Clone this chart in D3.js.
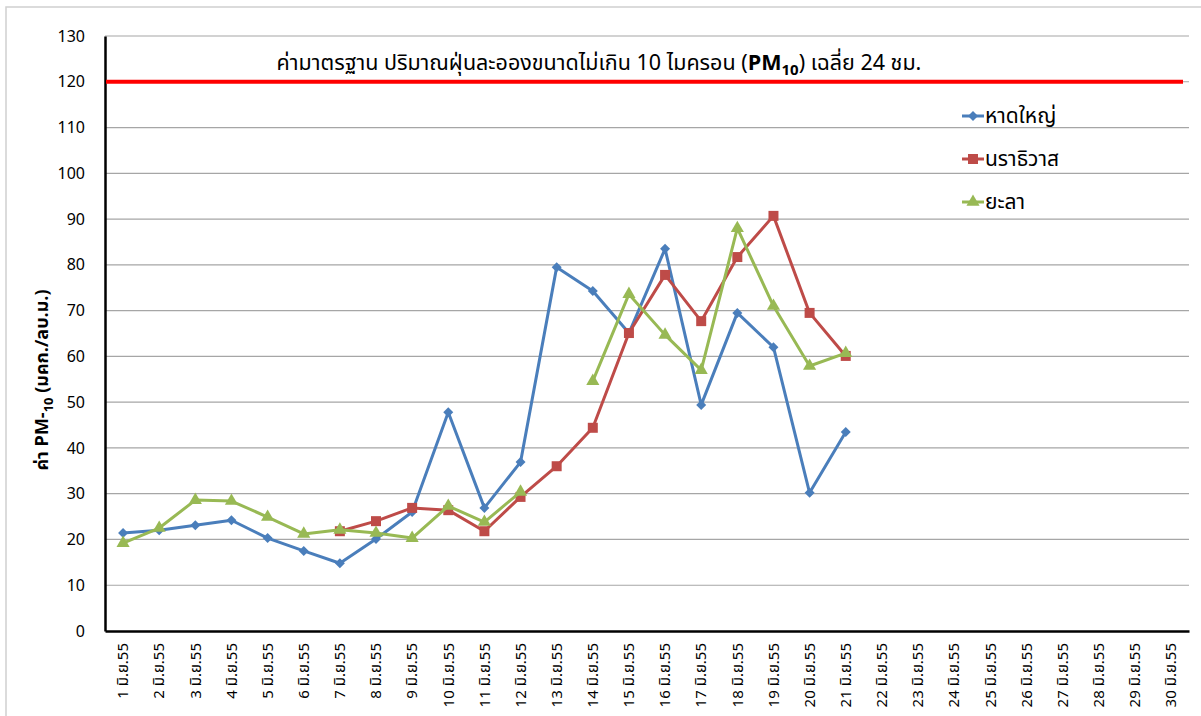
<!DOCTYPE html>
<html>
<head>
<meta charset="utf-8">
<script src="https://cdn.jsdelivr.net/npm/d3@7"></script>
<style>
  body { margin: 0; background: #fff; }
  text { font-family: "Noto Sans Thai", "Noto Sans", "DejaVu Sans", sans-serif; fill: #000; }
</style>
</head>
<body>
<div id="chart"></div>
<script>
// Chart values
const days = d3.range(1, 31).map(d => d + " มิ.ย.55");
const hatyai = [21.4, 22, 23.1, 24.2, 20.3, 17.5, 14.8, 20.1, 26, 47.8, 26.9, 36.9, 79.5, 74.3, 65.1, 83.5, 49.4, 69.5, 62, 30.2, 43.5,
  null, null, null, null, null, null, null, null, null];
const narathiwat = [null, null, null, null, null, null, 21.8, 24, 26.9, 26.4, 21.8, 29.3, 36, 44.4, 65.1, 77.8, 67.7, 81.7, 90.7, 69.5, 60.1,
  null, null, null, null, null, null, null, null, null];
const yala = [19.2, 22.5, 28.6, 28.4, 24.9, 21.2, 22.1, 21.4, 20.3, 27.3, 23.8, 30.4, null, 54.6, 73.6, 64.7, 57, 88, 71, 57.9, 60.7,
  null, null, null, null, null, null, null, null, null];
const seriesNames = ["หาดใหญ่", "นราธิวาส", "ยะลา"];
const standardValue = 120;
const yTicks = d3.range(0, 131, 10);

const width = 1201, height = 716;
const margin = { top: 36, right: 12, bottom: 85, left: 105 };

const svg = d3.select("#chart")
    .append("svg")
    .attr("width", width)
    .attr("height", height);

// outer chart border
svg.append("rect")
    .attr("x", 6).attr("y", 7)
    .attr("width", width + 10).attr("height", height + 10)
    .attr("fill", "none")
    .attr("stroke", "#d0d0d0")
    .attr("stroke-width", 1.5);

const x = d3.scaleBand()
    .domain(days)
    .range([margin.left, width - margin.right]);

const y = d3.scaleLinear()
    .domain([0, 130])
    .range([height - margin.bottom, margin.top]);

// gridlines
svg.append("g")
    .selectAll("line")
    .data(yTicks.filter(d => d > 0))
    .enter()
    .append("line")
    .attr("x1", margin.left)
    .attr("x2", width - margin.right)
    .attr("y1", d => y(d))
    .attr("y2", d => y(d))
    .attr("stroke", "#a6a6a6")
    .attr("stroke-width", 1.2);

// y axis
const yAxis = svg.append("g")
    .attr("transform", `translate(${margin.left},0)`)
    .call(d3.axisLeft(y).tickValues(yTicks).tickSize(0).tickPadding(20));
yAxis.select(".domain").attr("stroke", "#000").attr("stroke-width", 2.5);
yAxis.selectAll("text")
    .style("font-size", "16px")
    .style("font-family", "'Noto Sans', 'DejaVu Sans', sans-serif")
    .attr("fill", "#000");

// x axis
const xAxis = svg.append("g")
    .attr("transform", `translate(0,${y(0)})`)
    .call(d3.axisBottom(x).tickSize(0).tickPadding(0));
xAxis.select(".domain").attr("stroke", "#000").attr("stroke-width", 2.5);
xAxis.selectAll("text")
    .attr("transform", "rotate(-90)")
    .attr("x", -12)
    .attr("y", 0)
    .attr("dy", "0.35em")
    .style("text-anchor", "end")
    .style("font-size", "15px")
    .attr("fill", "#000");

// standard line
svg.append("line")
    .attr("x1", margin.left + 1)
    .attr("x2", width - margin.right - 6)
    .attr("y1", y(standardValue))
    .attr("y2", y(standardValue))
    .attr("stroke", "#ff0000")
    .attr("stroke-width", 4);

// title
const title = svg.append("text")
    .attr("x", 599)
    .attr("y", 70)
    .style("text-anchor", "middle")
    .style("font-size", "21.5px");
title.append("tspan").text("ค่ามาตรฐาน ปริมาณฝุ่นละอองขนาดไม่เกิน 10 ไมครอน (");
title.append("tspan").style("font-weight", "bold").text("PM");
title.append("tspan").style("font-weight", "bold").style("font-size", "15px").attr("dy", 5).text("10");
title.append("tspan").attr("dy", -5).text(") เฉลี่ย 24 ชม.");

// y axis label
const yLabel = svg.append("text")
    .attr("transform", "translate(48,380) rotate(-90)")
    .style("text-anchor", "middle")
    .style("font-size", "18px")
    .style("font-weight", "bold");
yLabel.append("tspan").text("ค่า PM-");
yLabel.append("tspan").style("font-size", "13px").attr("dy", 5).text("10");
yLabel.append("tspan").attr("dy", -5).text(" (มคก./ลบ.ม.)");

// series
const series = [
    { name: seriesNames[0], values: hatyai, color: "#4a7ebb", symbol: d3.symbolSquare, size: 50, rotate: 45 },
    { name: seriesNames[1], values: narathiwat, color: "#be4b48", symbol: d3.symbolSquare, size: 100, rotate: 0 },
    { name: seriesNames[2], values: yala, color: "#98b954", symbol: d3.symbolTriangle, size: 75, rotate: 0 }
];

const cx = d => x(d) + x.bandwidth() / 2;

const line = d3.line()
    .defined(d => d.v != null)
    .x(d => cx(d.day))
    .y(d => y(d.v));

series.forEach(s => {
    const pts = s.values.map((v, i) => ({ day: days[i], v }));
    svg.append("path")
        .datum(pts)
        .attr("d", line)
        .attr("fill", "none")
        .attr("stroke", s.color)
        .attr("stroke-width", 3)
        .attr("stroke-linejoin", "round");
    svg.append("g")
        .selectAll("path")
        .data(pts.filter(d => d.v != null))
        .enter()
        .append("path")
        .attr("d", d3.symbol().type(s.symbol).size(s.size))
        .attr("transform", d => `translate(${cx(d.day)},${y(d.v)}) rotate(${s.rotate})`)
        .attr("fill", s.color);
});

// legend
const legend = svg.append("g")
    .selectAll("g")
    .data(series)
    .enter()
    .append("g")
    .attr("transform", (d, i) => `translate(962,${116 + i * 43})`);
legend.append("line")
    .attr("x1", 0).attr("x2", 22)
    .attr("stroke", d => d.color)
    .attr("stroke-width", 3);
legend.append("path")
    .attr("d", d => d3.symbol().type(d.symbol).size(d.size)())
    .attr("transform", d => `translate(11,0) rotate(${d.rotate})`)
    .attr("fill", d => d.color);
legend.append("text")
    .attr("x", 23)
    .attr("dy", "0.35em")
    .style("font-size", "21px")
    .text(d => d.name);
</script>
</body>
</html>
